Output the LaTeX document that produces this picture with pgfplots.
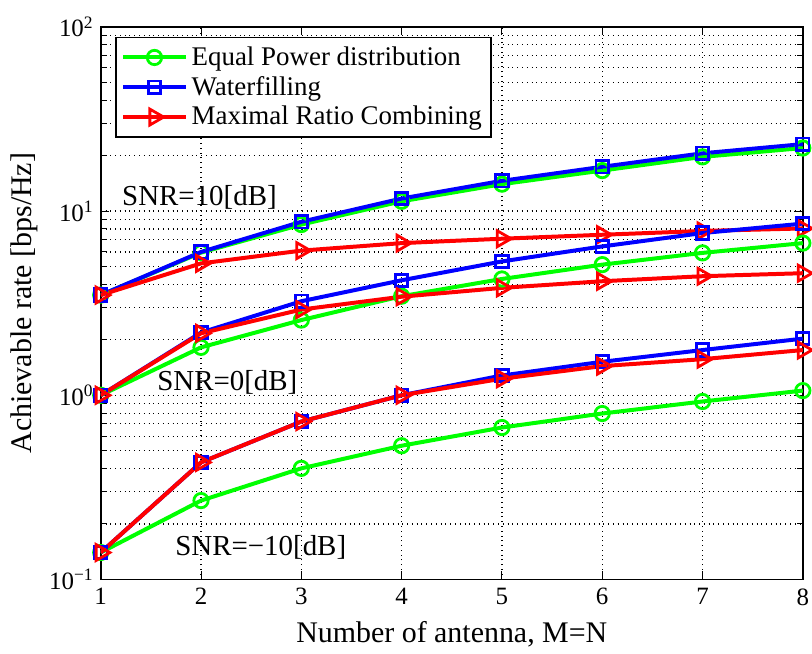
\documentclass[border=0pt]{standalone}
\usepackage{fontspec}
\setmainfont{Liberation Serif}
\usepackage{pgfplots}
\pgfplotsset{compat=1.18}
\definecolor{mgreen}{rgb}{0,1,0}
\definecolor{mblue}{rgb}{0,0,1}
\definecolor{mred}{rgb}{1,0,0}
\pgfplotsset{
  ep/.style={mgreen, line width=2pt, mark=o, mark size=3.6pt, mark options={line width=1.4pt, fill=none}},
  wf/.style={mblue, line width=2pt, mark=square, mark size=3.1pt, mark options={line width=1.4pt, fill=none}},
  mrc/.style={mred, line width=2pt, mark=triangle, mark size=4.6pt, mark options={line width=1.4pt, fill=none, rotate=-90}},
}
\begin{document}
\begin{tikzpicture}
\begin{axis}[
  name=ax,
  scale only axis,
  width=352pt, height=277pt,
  xmin=1, xmax=8,
  ymode=log, ymin=0.1, ymax=100,
  xtick={1,2,3,4,5,6,7,8},
  xticklabels={1,2,3,4,5,6,7,8},
  ytick={0.1,1,10,100},
  yticklabels={10\textsuperscript{−1},10\textsuperscript{0},10\textsuperscript{1},10\textsuperscript{2}},
  grid=both,
  major grid style={black, dotted, line width=0.6pt},
  minor grid style={black, dotted, line width=0.6pt},
  tick align=inside,
  tick style={black, line width=0.5pt},
  axis line style={line width=0.8pt},
  xlabel={Number of antenna, M=N},
  ylabel={Achievable rate [bps/Hz]},
  label style={font=\fontsize{15}{17}\selectfont},
  tick label style={font=\fontsize{12.5}{14}\selectfont},
  xticklabel style={yshift=-1pt, inner xsep=0pt},
  xlabel style={yshift=-1pt},
  ylabel style={yshift=-1pt},
  legend style={at={(0.021,0.982)}, anchor=north west, draw=black, line width=0.8pt,
    font=\fontsize{13.5}{16}\selectfont, cells={anchor=west}, row sep=0pt, inner sep=2.5pt},
  legend image code/.code={
    \draw[mark repeat=2, mark phase=2] plot coordinates {(0cm,0cm) (0.55cm,0cm) (1.1cm,0cm)};
  },
]
% SNR = 10 dB
\addplot[ep] coordinates {(1,3.5) (2,5.95) (3,8.45) (4,11.3) (5,14.0) (6,16.6) (7,19.7) (8,22.0)};
\addlegendentry{Equal Power distribution}
\addplot[wf] coordinates {(1,3.5) (2,6.0) (3,8.75) (4,11.7) (5,14.6) (6,17.4) (7,20.6) (8,23.1)};
\addlegendentry{Waterfilling}
\addplot[mrc] coordinates {(1,3.5) (2,5.2) (3,6.1) (4,6.7) (5,7.08) (6,7.44) (7,7.8) (8,8.05)};
\addlegendentry{Maximal Ratio Combining}
% SNR = 0 dB
\addplot[ep, forget plot] coordinates {(1,1.0) (2,1.82) (3,2.56) (4,3.45) (5,4.28) (6,5.12) (7,5.93) (8,6.7)};
\addplot[wf, forget plot] coordinates {(1,1.0) (2,2.19) (3,3.24) (4,4.21) (5,5.33) (6,6.43) (7,7.6) (8,8.55)};
\addplot[mrc, forget plot] coordinates {(1,1.0) (2,2.17) (3,2.92) (4,3.43) (5,3.83) (6,4.16) (7,4.43) (8,4.6)};
% SNR = -10 dB
\addplot[ep, forget plot] coordinates {(1,0.14) (2,0.268) (3,0.401) (4,0.532) (5,0.668) (6,0.796) (7,0.925) (8,1.06)};
\addplot[wf, forget plot] coordinates {(1,0.14) (2,0.432) (3,0.72) (4,1.0) (5,1.28) (6,1.52) (7,1.76) (8,2.03)};
\addplot[mrc, forget plot] coordinates {(1,0.14) (2,0.432) (3,0.72) (4,1.0) (5,1.23) (6,1.44) (7,1.57) (8,1.76)};
\node[anchor=west, inner sep=0pt, font=\fontsize{14.5}{16}\selectfont] at (axis cs:1.21,11.8) {SNR=10[dB]};
\node[anchor=west, inner sep=0pt, font=\fontsize{14.5}{16}\selectfont] at (axis cs:1.56,1.18) {SNR=0[dB]};
\node[anchor=west, inner sep=0pt, font=\fontsize{14.5}{16}\selectfont] at (axis cs:1.74,0.15) {SNR=−10[dB]};
\end{axis}
\path (ax.north west) ++(0,13.5pt);
\path (ax.south west) ++(0,-34pt);
\path (ax.south west) ++(-50.5pt,0);
\end{tikzpicture}
\end{document}
